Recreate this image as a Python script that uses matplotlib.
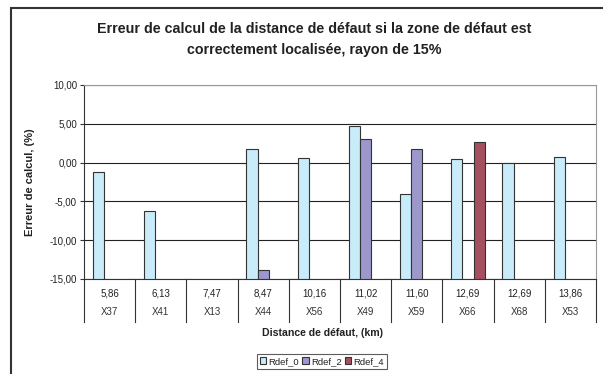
import numpy as np
import matplotlib
matplotlib.use("Agg")
from matplotlib import pyplot as plt
from matplotlib.patches import Rectangle

plt.rcParams['font.family'] = ['Liberation Sans', 'DejaVu Sans']
plt.rcParams['text.color'] = "#222222"
plt.rcParams['ytick.color'] = "#333333"
plt.rcParams['ytick.labelcolor'] = "#222222"

# données
distances = ["5,86", "6,13", "7,47", "8,47", "10,16", "11,02", "11,60", "12,69", "12,69", "13,86"]
noeuds = ["X37", "X41", "X13", "X44", "X56", "X49", "X59", "X66", "X68", "X53"]
rdef_0 = [-1.2, -6.2, np.nan, 1.75, 0.55, 4.7, -4.0, 0.45, 0.0, 0.75]
rdef_2 = [np.nan, np.nan, np.nan, -13.9, np.nan, 3.05, 1.75, np.nan, np.nan, np.nan]
rdef_4 = [np.nan, np.nan, np.nan, np.nan, np.nan, np.nan, np.nan, 2.6, np.nan, np.nan]

series = [("Rdef_0", rdef_0, "#c8ecfa"),
          ("Rdef_2", rdef_2, "#9c98cc"),
          ("Rdef_4", rdef_4, "#a54f60")]

fig = plt.figure(figsize=(6.03, 3.74), dpi=100)
ax = fig.add_axes([84/603, 1-279/374, 512/603, 194/374])

x = np.arange(len(noeuds))
largeur = 0.22
base = -15
for k, (nom, vals, coul) in enumerate(series):
    v = np.array(vals, dtype=float)
    ax.bar(x + (k-1)*largeur, v - base, bottom=base, width=largeur,
           color=coul, edgecolor="#333333", linewidth=0.8, label=nom, zorder=3)

ax.set_xlim(-0.5, len(noeuds)-0.5)
ax.set_ylim(-15, 10)
ax.set_yticks(np.arange(-15, 11, 5))
ax.set_yticklabels([("%.2f" % t).replace(".", ",") for t in np.arange(-15, 11, 5)], fontsize=7)
ax.tick_params(axis="y", length=3, width=0.8, pad=2)
ax.set_xticks([])
ax.grid(axis="y", color="#222222", linewidth=0.8, zorder=0)
for s in ["top", "right"]:
    ax.spines[s].set_color("#999999")
ax.spines["left"].set_color("#333333")
ax.spines["bottom"].set_color("#333333")

# tableau des catégories sous l'axe
trans = ax.get_xaxis_transform()
for i in range(len(noeuds)):
    ax.text(i, -0.077, distances[i], transform=trans, ha="center", va="center", fontsize=7)
    ax.text(i, -0.168, noeuds[i], transform=trans, ha="center", va="center", fontsize=7,
            color="#333333")
for b in np.arange(-0.5, len(noeuds), 1):
    ax.plot([b, b], [0, -0.22], transform=trans, color="#333333", linewidth=0.8, clip_on=False)

fig.text(30/603, 1-182/374, "Erreur de calcul, (%)", rotation=90, ha="center", va="center",
         fontsize=8, fontweight="bold")
fig.text(322/603, 1-333/374, "Distance de défaut, (km)", ha="center", va="center",
         fontsize=7.6, fontweight="bold")
fig.text(314/603, 1-29/374, "Erreur de calcul de la distance de défaut si la zone de défaut est",
         ha="center", va="center", fontsize=10.3, fontweight="bold")
fig.text(314/603, 1-50/374, "correctement localisée, rayon de 15%",
         ha="center", va="center", fontsize=10.3, fontweight="bold")

# cadre extérieur
fig.patches.append(Rectangle((11/603, -0.05), 1.0, 1-8.5/374+0.05, transform=fig.transFigure,
                             fill=False, edgecolor="#333333", linewidth=1.5))

leg = fig.legend(loc="upper center", bbox_to_anchor=(322/603, 1-354/374), ncol=3,
                 fontsize=6.8, frameon=True, fancybox=False, edgecolor="#333333",
                 handlelength=0.7, handleheight=0.7, handletextpad=0.25, columnspacing=0.3,
                 borderpad=0.3, borderaxespad=0)
leg.get_frame().set_linewidth(0.8)

fig.savefig("out.png", dpi=100)
